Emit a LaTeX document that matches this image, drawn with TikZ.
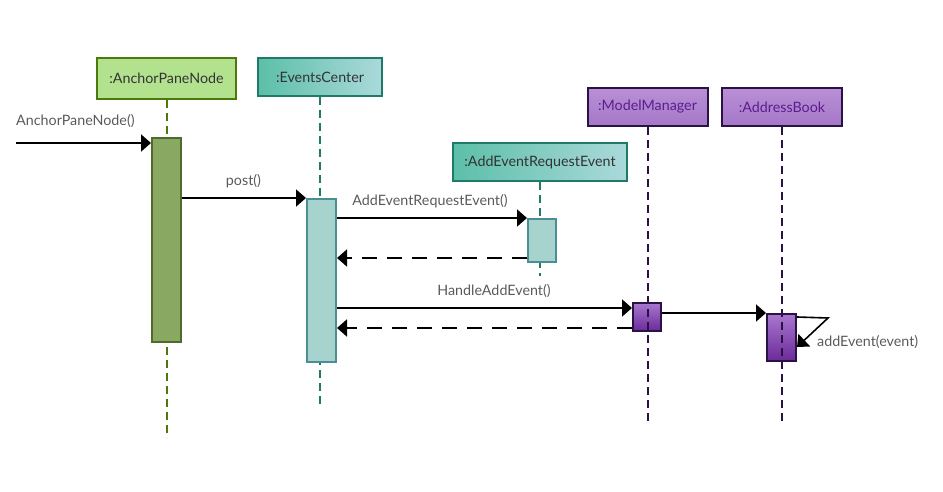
\documentclass[tikz,border=0pt]{standalone}
\usepackage{fontspec}
\setmainfont{Lato}
\usetikzlibrary{arrows.meta,calc}

% palette
\definecolor{grnFill}{HTML}{B3E28F}
\definecolor{grnLine}{HTML}{4B7A0B}
\definecolor{grnAct}{HTML}{89A862}
\definecolor{grnActLine}{HTML}{4F6B2C}
\definecolor{tealL}{HTML}{5CBFA8}
\definecolor{tealR}{HTML}{ABD9DB}
\definecolor{tealLine}{HTML}{1F7A68}
\definecolor{tealAct}{HTML}{A6D3CE}
\definecolor{tealActLine}{HTML}{4A8F96}
\definecolor{purTop}{HTML}{B98FD6}
\definecolor{purBot}{HTML}{A578C8}
\definecolor{purLine}{HTML}{2B1245}
\definecolor{purText}{HTML}{5C1D8C}
\definecolor{purActTop}{HTML}{A877CF}
\definecolor{purActBot}{HTML}{6B2A99}
\definecolor{msgText}{HTML}{5A5A5A}
\definecolor{hdrText}{HTML}{333333}

\tikzset{
  hdr/.style={draw, line width=2pt, inner sep=0pt, font=\fontsize{14.3}{16}\selectfont},
  grnhdr/.style={hdr, fill=grnFill, draw=grnLine, text=hdrText},
  tealhdr/.style={hdr, draw=tealLine, left color=tealL, right color=tealR, text=hdrText},
  purhdr/.style={hdr, draw=purLine, top color=purTop, bottom color=purBot, text=purText},
  act/.style={draw, line width=2pt, inner sep=0pt},
  grnact/.style={act, fill=grnAct, draw=grnActLine},
  tealact/.style={act, fill=tealAct, draw=tealActLine},
  puract/.style={act, draw=purLine, top color=purActTop, bottom color=purActBot},
  life/.style={line width=2pt, dash pattern=on 8pt off 5pt},
  msg/.style={line width=2pt, -{Triangle[length=10pt,width=17pt]}},
  ret/.style={msg, dash pattern=on 15pt off 10pt},
  lbl/.style={text=msgText, inner sep=0pt, font=\fontsize{14.3}{16}\selectfont},
}

\begin{document}
\begin{tikzpicture}[x=1pt, y=-1pt]
\useasboundingbox (0,0) rectangle (943,492);

% participants
\node[grnhdr, minimum width=139pt, minimum height=41pt] (apn) at (166.5,78.5) {:AnchorPaneNode};
\node[tealhdr, minimum width=124pt, minimum height=38pt] (ec) at (320,77) {:EventsCenter};
\node[tealhdr, minimum width=174pt, minimum height=38pt] (are) at (540,162) {:AddEventRequestEvent};
\node[purhdr, minimum width=120pt, minimum height=38pt] (mm) at (647.5,107) {:ModelManager};
\node[purhdr, minimum width=120pt, minimum height=38pt] (ab) at (782,107) {:AddressBook};

% lifeline ends
\coordinate (apnEnd) at (166.5,438);
\coordinate (ecEnd) at (320,408);
\coordinate (areEnd) at (540,276);
\coordinate (mmEnd) at (647.5,425);
\coordinate (abEnd) at (782,423);

\draw[life, grnLine] (apn.south) -- (apnEnd);
\draw[life, tealLine] (ec.south) -- (ecEnd);
\draw[life, tealLine] (are.south) -- (areEnd);

% activation bars
\node[grnact, minimum width=29pt, minimum height=204pt] (apnAct) at (166.5,240) {};
\node[tealact, minimum width=29pt, minimum height=163pt] (ecAct) at (321.5,280.5) {};
\node[tealact, minimum width=28pt, minimum height=43pt] (areAct) at (542,240.5) {};
\node[puract, minimum width=28pt, minimum height=28pt] (mmAct) at (647,317) {};
\node[puract, minimum width=29pt, minimum height=47pt] (abAct) at (781.5,337.5) {};

\draw[life, purLine] (mm.south) -- (mmEnd);
\draw[life, purLine] (ab.south) -- (abEnd);

% messages
\coordinate (entry) at (16,143);
\draw[msg] (entry) -- (entry -| apnAct.west);
\node[lbl, anchor=west] (entryLbl) at (16,121) {AnchorPaneNode()};

\draw[msg] (apnAct.east |- 0,198) -- (ecAct.west |- 0,198);
\node[lbl] (postLbl) at (243.5,181) {post()};

\draw[msg] (ecAct.east |- 0,218) -- (areAct.west |- 0,218);
\node[lbl] (areLbl) at (430,201) {AddEventRequestEvent()};
\draw[ret] (areAct.west |- 0,258) -- (ecAct.east |- 0,258);

\draw[msg] (ecAct.east |- 0,308) -- (mmAct.west |- 0,308);
\node[lbl] (haeLbl) at (494,291) {HandleAddEvent()};
\draw[ret] (mmAct.west |- 0,328) -- (ecAct.east |- 0,328);

\draw[msg] (mmAct.east |- 0,313) -- (abAct.west |- 0,313);

% self call on the address book
\coordinate (selfTurn) at (828,318);
\draw[msg, line width=1.6pt] (abAct.east |- 0,317) -- (selfTurn) -- (abAct.east |- 0,347);
\node[lbl, anchor=west] (selfLbl) at (817,342) {addEvent(event)};
\end{tikzpicture}
\end{document}
